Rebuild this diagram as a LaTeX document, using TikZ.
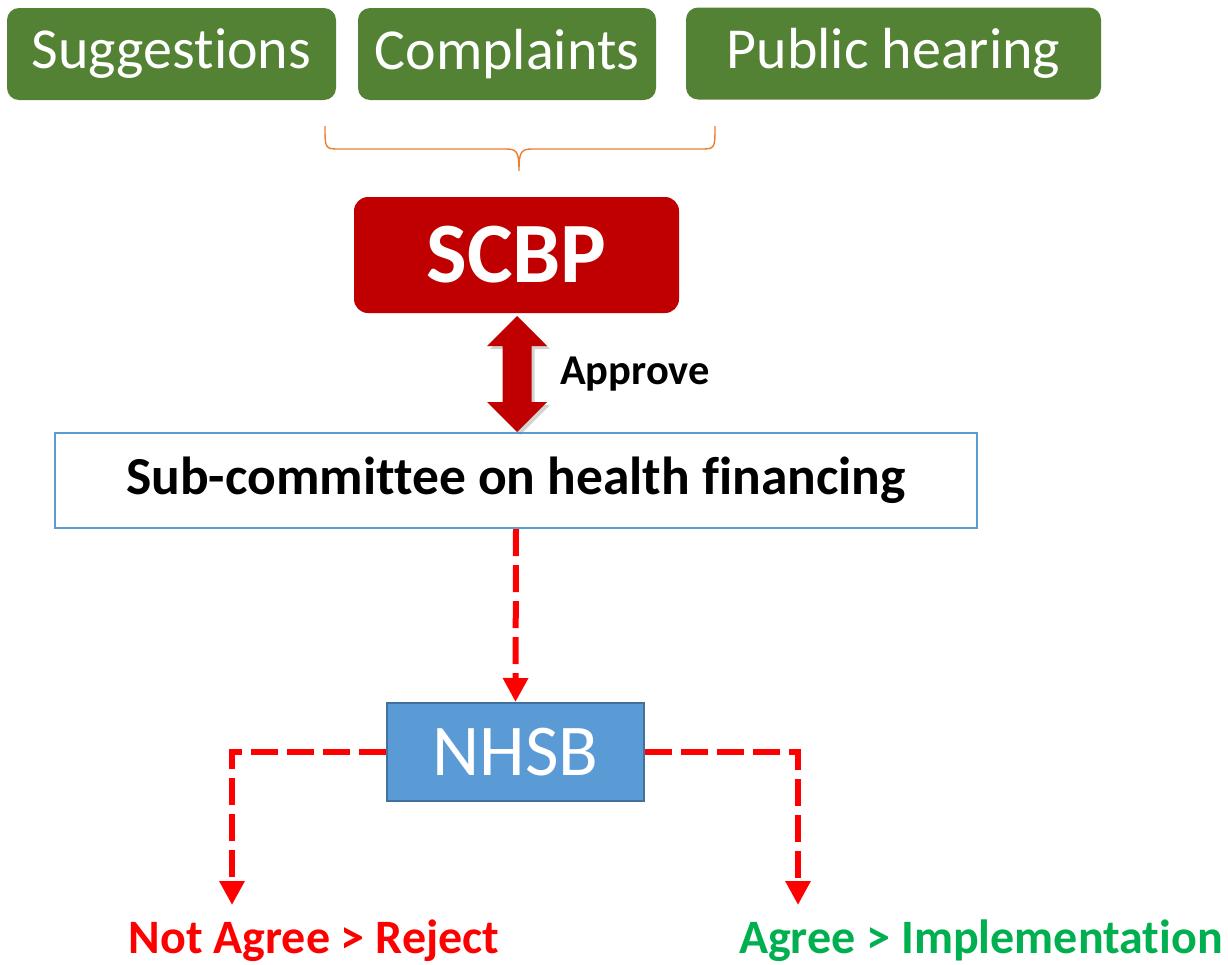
\documentclass[tikz,border=0pt]{standalone}
\usepackage{fontspec}
\setmainfont{Carlito}[Ligatures=NoCommon]
\usetikzlibrary{arrows.meta,shadows}
\definecolor{leafgreen}{HTML}{548235}
\definecolor{boardred}{HTML}{C00000}
\definecolor{skyblue}{HTML}{5B9BD5}
\definecolor{steelblue}{HTML}{41719C}
\definecolor{braceorange}{HTML}{ED7D31}
\definecolor{okgreen}{HTML}{00B050}
\definecolor{alertred}{HTML}{FF0000}
\tikzset{
  x=1pt, y=-1pt,
  source/.style={fill=leafgreen, text=white, rounded corners=12pt, inner sep=0pt,
    minimum height=92pt, font=\fontsize{58}{60}\selectfont},
  dashflow/.style={alertred, line width=6pt, dash pattern=on 27pt off 9pt,
    -{Triangle[width=24pt,length=24pt]}},
  outcome/.style={anchor=base, inner sep=0pt, font=\fontsize{48}{50}\selectfont\bfseries},
}
\begin{document}
\begin{tikzpicture}
\useasboundingbox (0,0) rectangle (1228,964);

% input channels
\node[source, minimum width=329pt] (sugg) at (171.5,54) {Suggestions};
\node[source, minimum width=298pt] (comp) at (507,54) {Complaints};
\node[source, minimum width=415pt] (pub) at (893.5,53.5) {Public hearing};

% brace gathering the channels
\draw[braceorange, line width=1.4pt]
  (325,126) .. controls (325,149) and (325,149) .. (340,149) -- (506,149)
  .. controls (517,149) and (519,152) .. (519,171)
  .. controls (519,152) and (521,149) .. (532,149) -- (700,149)
  .. controls (715,149) and (715,149) .. (715,126);

% approving board
\node[fill=boardred, text=white, rounded corners=14pt, inner sep=0pt,
      minimum width=325pt, minimum height=116pt,
      font=\fontsize{86}{88}\selectfont\bfseries] (scbp) at (516.5,255) {SCBP};

% sub-committee
\node[draw=skyblue, line width=2pt, fill=white, inner sep=0pt,
      minimum width=922pt, minimum height=95pt,
      font=\fontsize{53.5}{56}\selectfont\bfseries] (sub) at (516,480.5)
      {Sub-committee on health financing};

% two-way approval arrow
\fill[boardred, drop shadow={shadow xshift=3pt, shadow yshift=-3pt, opacity=0.35}]
  (517,316) -- (547,346) -- (531.5,346) -- (531.5,402) -- (547,402) -- (517,432)
  -- (487,402) -- (502.5,402) -- (502.5,346) -- (487,346) -- cycle;
\node[anchor=west, inner sep=0pt, font=\fontsize{42.5}{44}\selectfont\bfseries] (appr) at (560,374) {Approve};

% national board
\node[draw=steelblue, line width=2pt, fill=skyblue, text=white, inner sep=0pt,
      minimum width=257pt, minimum height=98pt,
      font=\fontsize{73}{75}\selectfont] (nhsb) at (515.5,752) {NHSB};

% outcomes
\node[outcome, text=alertred] (reject) at (314,953) {Not Agree > Reject};
\node[outcome, text=okgreen] (agree) at (981,953) {Agree > Implementation};
\coordinate (rejtip) at (232,905);
\coordinate (agrtip) at (798,905);

\draw[dashflow] (sub.south) -- (nhsb.north);
\draw[dashflow] (nhsb.west) -| (rejtip);
\draw[dashflow] (nhsb.east) -| (agrtip);
\end{tikzpicture}
\end{document}
